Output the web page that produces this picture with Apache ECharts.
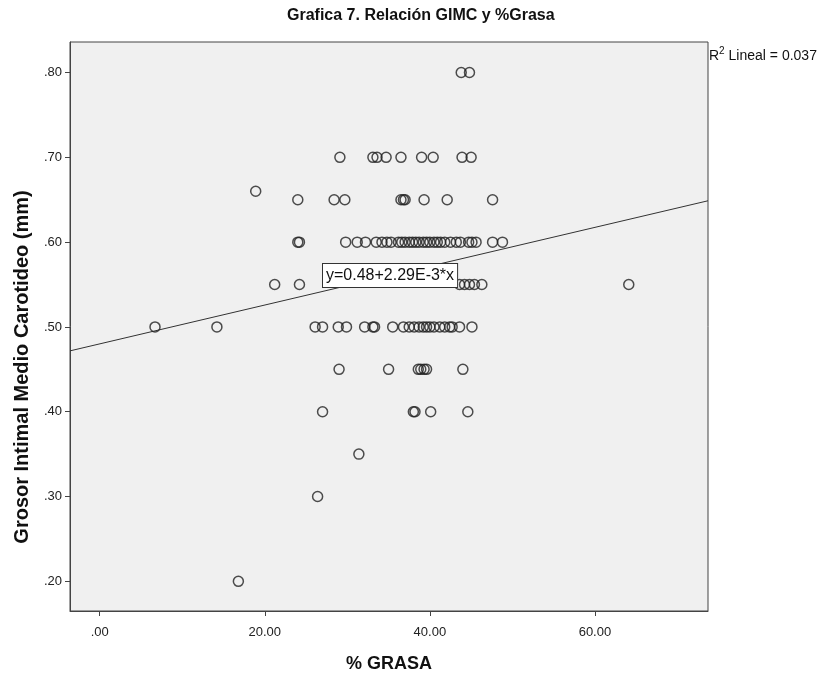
<!DOCTYPE html>
<html>
<head>
<meta charset="utf-8">
<script src="https://cdn.jsdelivr.net/npm/echarts@6/dist/echarts.min.js"></script>
<style>
  html, body { margin: 0; padding: 0; background: #fff; }
  #main { width: 825px; height: 673px; }
</style>
</head>
<body>
<div id="main"></div>
<script>
// % grasa (x) y GIMC (y), leidos fila por fila
var grasa = [
  43.8, 44.8,
  29.1, 33.1, 33.6, 34.7, 36.5, 39.0, 40.4, 43.9, 45.0,
  18.9,
  24.0, 28.4, 29.7, 36.5, 36.8, 37.0, 39.3, 42.1, 47.6,
  24.0, 24.2, 29.8, 31.2, 32.2, 33.5, 34.2, 34.8, 35.3, 36.2, 36.6, 37.0, 37.5, 37.9, 38.3, 38.7, 39.2, 39.6, 40.0, 40.5, 40.9, 41.3, 41.8, 42.5, 43.2, 43.7, 44.7, 45.1, 45.6, 47.6, 48.8,
  21.2, 24.2, 43.6, 44.2, 44.8, 45.4, 46.3, 64.1,
  6.7, 14.2, 26.1, 27.0, 28.9, 29.9, 32.1, 33.1, 33.3, 35.5, 36.8, 37.5, 38.1, 38.7, 39.2, 39.6, 40.0, 40.5, 41.2, 41.8, 42.4, 42.7, 43.6, 45.1,
  29.0, 35.0, 38.6, 38.9, 39.3, 39.6, 44.0,
  27.0, 38.0, 38.2, 40.1, 44.6,
  31.4,
  26.4,
  16.8
];
var gimc = [
  0.80, 0.80,
  0.70, 0.70, 0.70, 0.70, 0.70, 0.70, 0.70, 0.70, 0.70,
  0.66,
  0.65, 0.65, 0.65, 0.65, 0.65, 0.65, 0.65, 0.65, 0.65,
  0.60, 0.60, 0.60, 0.60, 0.60, 0.60, 0.60, 0.60, 0.60, 0.60, 0.60, 0.60, 0.60, 0.60, 0.60, 0.60, 0.60, 0.60, 0.60, 0.60, 0.60, 0.60, 0.60, 0.60, 0.60, 0.60, 0.60, 0.60, 0.60, 0.60, 0.60,
  0.55, 0.55, 0.55, 0.55, 0.55, 0.55, 0.55, 0.55,
  0.50, 0.50, 0.50, 0.50, 0.50, 0.50, 0.50, 0.50, 0.50, 0.50, 0.50, 0.50, 0.50, 0.50, 0.50, 0.50, 0.50, 0.50, 0.50, 0.50, 0.50, 0.50, 0.50, 0.50,
  0.45, 0.45, 0.45, 0.45, 0.45, 0.45, 0.45,
  0.40, 0.40, 0.40, 0.40, 0.40,
  0.35,
  0.30,
  0.20
];
// recta de ajuste y = a + b*x
var ajuste = [0.48, 2.29e-3];
var xTicks = [0, 20, 40, 60];
var yTicks = [0.2, 0.3, 0.4, 0.5, 0.6, 0.7, 0.8];
var xRange = [-3.6, 73.7];
var yRange = [0.165, 0.836];

var puntos = grasa.map(function (g, i) { return [g, gimc[i]]; });
var linea = xRange.map(function (x) { return [x, ajuste[0] + ajuste[1] * x]; });

var chart = echarts.init(document.getElementById('main'));
var fuente = 'Liberation Sans, Arial, sans-serif';

chart.setOption({
  animation: false,
  title: {
    text: 'Grafica 7. Relación GIMC y %Grasa',
    left: 282,
    top: 3,
    textStyle: { fontFamily: fuente, fontSize: 16, fontWeight: 'bold', color: '#111' }
  },
  grid: {
    left: 70, right: 117, top: 42, bottom: 62,
    outerBoundsMode: 'none',
    show: true,
    backgroundColor: '#f0f0f0',
    borderColor: '#444',
    borderWidth: 1
  },
  xAxis: {
    type: 'value',
    min: xRange[0], max: xRange[1],
    name: '% GRASA',
    nameLocation: 'middle',
    nameGap: 44,
    nameTextStyle: { fontFamily: fuente, fontSize: 18, fontWeight: 'bold', color: '#111' },
    axisLine: { show: true, onZero: false, lineStyle: { color: '#444' } },
    axisTick: { show: true, length: 5, customValues: xTicks, lineStyle: { color: '#444' } },
    splitLine: { show: false },
    axisLabel: {
      customValues: xTicks,
      fontFamily: fuente, fontSize: 13, color: '#222', margin: 15,
      formatter: function (v) { return v.toFixed(2).replace(/^0/, ''); }
    }
  },
  yAxis: {
    type: 'value',
    min: yRange[0], max: yRange[1],
    axisLine: { show: true, onZero: false, lineStyle: { color: '#444' } },
    axisTick: { show: true, length: 5, customValues: yTicks, lineStyle: { color: '#444' } },
    splitLine: { show: false },
    axisLabel: {
      customValues: yTicks,
      fontFamily: fuente, fontSize: 13, color: '#222', margin: 8,
      formatter: function (v) { return v.toFixed(2).replace(/^0/, ''); }
    }
  },
  series: [
    {
      type: 'line',
      data: linea,
      symbol: 'none',
      lineStyle: { color: '#333', width: 1 },
      z: 1
    },
    {
      type: 'scatter',
      data: puntos,
      symbol: 'circle',
      symbolSize: 10,
      itemStyle: { color: 'rgba(0,0,0,0)', borderColor: '#222', borderWidth: 1.5 },
      z: 2
    }
  ],
  graphic: [
    {
      // titulo del eje Y
      type: 'text',
      x: 22, y: 367,
      rotation: Math.PI / 2,
      style: {
        text: 'Grosor Intimal Medio Carotideo (mm)',
        font: 'bold 20px ' + fuente,
        fill: '#111',
        align: 'center',
        verticalAlign: 'middle'
      }
    },
    {
      type: 'text',
      left: 322, top: 263,
      z: 10,
      style: {
        text: 'y=0.48+2.29E-3*x',
        font: '16px ' + fuente,
        fill: '#111',
        backgroundColor: '#fff',
        borderColor: '#333',
        borderWidth: 1,
        padding: [4, 3, 3, 3]
      }
    },
    {
      type: 'text',
      left: 709, top: 46,
      style: {
        text: '{n|R}{s|2}{n| Lineal = 0.037}',
        rich: {
          n: { font: '14px ' + fuente, fill: '#111', verticalAlign: 'bottom' },
          s: { font: '10px ' + fuente, fill: '#111', verticalAlign: 'top', padding: [0, 0, 7, 0] }
        }
      }
    }
  ]
});
</script>
</body>
</html>
